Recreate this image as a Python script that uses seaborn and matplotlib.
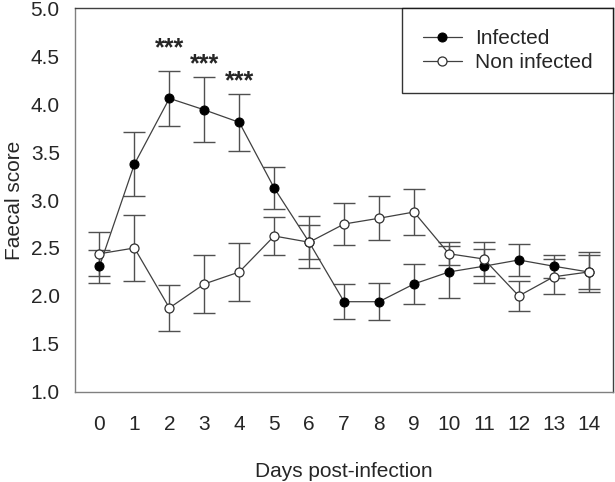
import numpy as np
import pandas as pd
import matplotlib
matplotlib.use("Agg")
import matplotlib.pyplot as plt
import seaborn as sns

# --- Data ---
days = list(range(15))
infected_mean = [2.31, 3.375, 4.06, 3.94, 3.81, 3.125, 2.56, 1.94, 1.94, 2.125, 2.25, 2.31, 2.375, 2.31, 2.25]
infected_sem = [0.17, 0.33, 0.29, 0.34, 0.30, 0.22, 0.27, 0.18, 0.19, 0.21, 0.27, 0.18, 0.17, 0.12, 0.21]
noninf_mean = [2.44, 2.5, 1.875, 2.125, 2.25, 2.625, 2.56, 2.75, 2.81, 2.875, 2.44, 2.385, 2.0, 2.2, 2.25]
noninf_sem = [0.23, 0.34, 0.24, 0.30, 0.30, 0.20, 0.18, 0.22, 0.23, 0.24, 0.12, 0.18, 0.16, 0.18, 0.18]
star_days = [2, 3, 4]
star_y = [4.58, 4.42, 4.24]
y_ticks = [1.0, 1.5, 2.0, 2.5, 3.0, 3.5, 4.0, 4.5, 5.0]

df = pd.DataFrame({"day": days, "Infected": infected_mean, "Non infected": noninf_mean})

sns.set_style("white")
plt.rcParams["font.family"] = ["Liberation Sans", "DejaVu Sans"]

fig = plt.figure(figsize=(6.15, 4.82), dpi=100)
ax = fig.add_axes([0.122, 0.187, 0.875, 0.796])

line_c = "#404040"
err_c = "#505050"

# error bars behind the markers
ax.errorbar(days, infected_mean, yerr=infected_sem, fmt="none", ecolor=err_c,
            elinewidth=1, capsize=8, capthick=1, zorder=1)
ax.errorbar(days, noninf_mean, yerr=noninf_sem, fmt="none", ecolor=err_c,
            elinewidth=1, capsize=8, capthick=1, zorder=1)

sns.lineplot(data=df, x="day", y="Infected", ax=ax, color=line_c, linewidth=0.9,
             marker="o", markersize=6.5, markerfacecolor="black",
             markeredgecolor="black", label="Infected", zorder=3)
sns.lineplot(data=df, x="day", y="Non infected", ax=ax, color=line_c, linewidth=0.9,
             marker="o", markersize=6.5, markerfacecolor="white",
             markeredgecolor="#303030", markeredgewidth=0.9,
             label="Non infected", zorder=4)

for d, y in zip(star_days, star_y):
    ax.text(d, y, "***", ha="center", va="center", fontsize=18, fontweight="bold")

ax.set_xlim(-0.7, 14.7)
ax.set_ylim(1.0, 5.0)
ax.set_xticks(days)
ax.set_yticks(y_ticks)
ax.set_yticklabels([f"{t:.1f}" for t in y_ticks])
ax.tick_params(axis="both", labelsize=15, length=8, width=1, color="#808080",
               direction="out")
ax.tick_params(axis="x", pad=9)
ax.tick_params(axis="y", pad=3)
ax.set_xlabel("Days post-infection", fontsize=15, labelpad=20)
ax.set_ylabel("Faecal score", fontsize=15, labelpad=5)

for side in ["left", "bottom"]:
    ax.spines[side].set_color("#808080")
for side in ["top", "right"]:
    ax.spines[side].set_color("#404040")
for s in ax.spines.values():
    s.set_linewidth(1)

leg = ax.legend(loc="upper right", fontsize=15, frameon=True, fancybox=False,
                borderaxespad=0, borderpad=1.0, handlelength=1.9,
                handletextpad=0.6, labelspacing=0.25, markerscale=1.0)
leg.get_frame().set_edgecolor("black")
leg.get_frame().set_linewidth(1)

fig.savefig("out.png", dpi=100)
